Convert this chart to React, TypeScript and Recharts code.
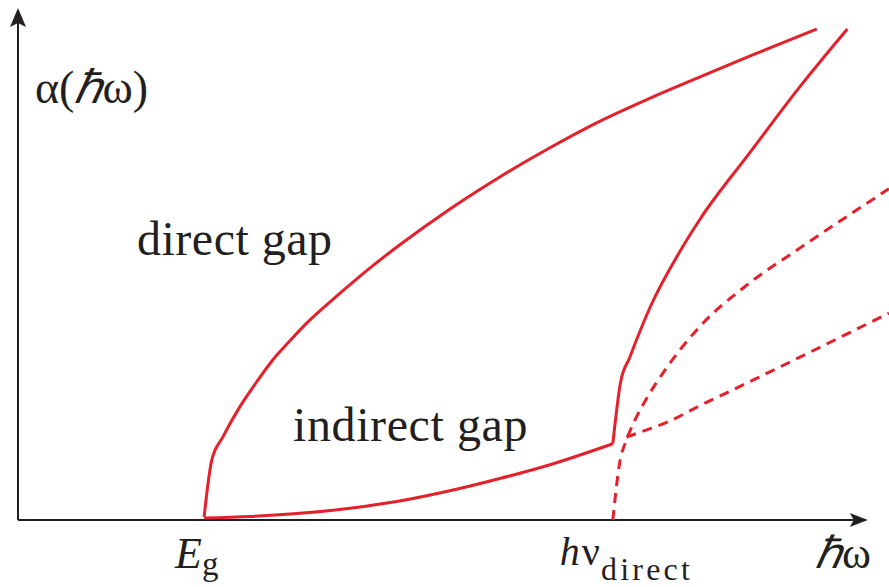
import React from 'react';
import { LineChart, Line, XAxis, YAxis, ReferenceLine, ReferenceDot } from 'recharts';

const RED = '#e5202b';
const INK = '#231f20';
const SERIF = '"Liberation Serif", "Times New Roman", serif';

// photon energy (arb. units) vs absorption coefficient (arb. units)
const EG = 2.19; // indirect band gap
const HV_DIRECT = 7.0; // onset of direct transitions

const directGap: [number, number][] = [
  [2.19, 0.06], [2.28, 1.17], [2.41, 1.62], [2.61, 2.21], [2.81, 2.7],
  [3.0, 3.13], [3.2, 3.5], [3.4, 3.85], [3.79, 4.43], [4.14, 4.92],
  [4.49, 5.37], [5.08, 6.07], [5.67, 6.7], [6.26, 7.27], [6.85, 7.79],
  [7.44, 8.24], [8.02, 8.65], [8.61, 9.06], [9.4, 9.59],
];

const indirectGap: [number, number][] = [
  [2.19, 0.04], [2.73, 0.07], [3.32, 0.13], [3.91, 0.23], [4.49, 0.37],
  [5.08, 0.57], [5.67, 0.81], [6.26, 1.08], [7.0, 1.49],
];

const combinedRise: [number, number][] = [
  [7.0, 1.49], [7.09, 2.68], [7.2, 3.18], [7.44, 4.16], [7.82, 5.33],
  [8.02, 5.86], [8.61, 7.17], [9.2, 8.46], [9.76, 9.59],
];

const directOnset: [number, number][] = [
  [7.0, 0], [7.08, 1.11], [7.16, 1.56], [7.26, 1.95], [7.4, 2.38],
  [7.64, 2.99], [8.02, 3.77], [8.61, 4.63], [9.2, 5.31], [10.25, 6.47],
];

const indirectExtension: [number, number][] = [
  [7.16, 1.62], [7.4, 1.76], [7.64, 1.91], [8.02, 2.23], [8.41, 2.54],
  [9.2, 3.18], [10.25, 4.04],
];

const xTicks = [EG, HV_DIRECT];

const toRows = (pts: [number, number][]) => pts.map(([e, a]) => ({ e, a }));

const EnergyTick = (props: any) => {
  const { x, payload } = props;
  if (payload.value === EG) {
    return (
      <text x={x - 29} y={568} fill={INK} fontFamily={SERIF}>
        <tspan fontSize={44} fontStyle="italic">E</tspan>
        <tspan fontSize={33} dy={7}>g</tspan>
      </text>
    );
  }
  return (
    <text x={x - 53} y={565} fill={INK} fontFamily={SERIF}>
      <tspan fontSize={40} fontStyle="italic">h</tspan>
      <tspan fontSize={40} dx={2}>ν</tspan>
      <tspan fontSize={32} dy={15} dx={1} textLength={89} lengthAdjust="spacing">direct</tspan>
    </text>
  );
};

const arrowRight = (p: any) => (
  <path d={`M${p.cx},${p.cy} L${p.cx - 18},${p.cy - 7} L${p.cx - 14},${p.cy} L${p.cx - 18},${p.cy + 7} Z`} fill={INK} />
);

const arrowUp = (p: any) => (
  <path d={`M${p.cx},${p.cy} L${p.cx - 8},${p.cy + 19} L${p.cx},${p.cy + 15} L${p.cx + 8},${p.cy + 19} Z`} fill={INK} />
);

const lineProps = {
  dataKey: 'a',
  type: 'monotone' as const,
  stroke: RED,
  strokeWidth: 3,
  dot: false,
  activeDot: false,
  isAnimationActive: false,
};

export default function App() {
  return (
    <div style={{ position: 'absolute', left: 0, top: 0, background: '#fff' }}>
      <LineChart width={889} height={587} margin={{ top: 8, right: 0, bottom: 0, left: 18 }}>
        <XAxis
          dataKey="e"
          type="number"
          domain={[0, 10.25]}
          ticks={xTicks}
          interval={0}
          height={67}
          axisLine={false}
          tickLine={false}
          tick={<EnergyTick />}
          allowDataOverflow
        />
        <YAxis type="number" domain={[0, 10]} hide allowDataOverflow />

        <ReferenceLine segment={[{ x: 0, y: 0 }, { x: 9.9, y: 0 }]} stroke={INK} strokeWidth={2} ifOverflow="visible" />
        <ReferenceLine segment={[{ x: 0, y: 0 }, { x: 0, y: 9.8 }]} stroke={INK} strokeWidth={2} ifOverflow="visible" />
        <ReferenceDot x={10} y={0} shape={arrowRight} ifOverflow="visible" />
        <ReferenceDot x={0} y={10} shape={arrowUp} ifOverflow="visible" />

        <Line {...lineProps} data={toRows(directGap)} />
        <Line {...lineProps} data={toRows(indirectGap)} />
        <Line {...lineProps} data={toRows(combinedRise)} />
        <Line {...lineProps} data={toRows(directOnset)} strokeDasharray="10 7" />
        <Line {...lineProps} data={toRows(indirectExtension)} strokeDasharray="10 7" />

        <text x={35} y={103} fill={INK} fontFamily={SERIF} fontSize={46}>
          α(<tspan fontStyle="italic">ℏ</tspan>ω)
        </text>
        <text x={137} y={255} fill={INK} fontFamily={SERIF} fontSize={48} letterSpacing={0.5}>direct gap</text>
        <text x={293} y={441} fill={INK} fontFamily={SERIF} fontSize={48} letterSpacing={0.6}>indirect gap</text>
        <text x={815} y={568} fill={INK} fontFamily={SERIF} fontSize={44}>
          <tspan fontStyle="italic">ℏ</tspan>ω
        </text>
      </LineChart>
    </div>
  );
}
